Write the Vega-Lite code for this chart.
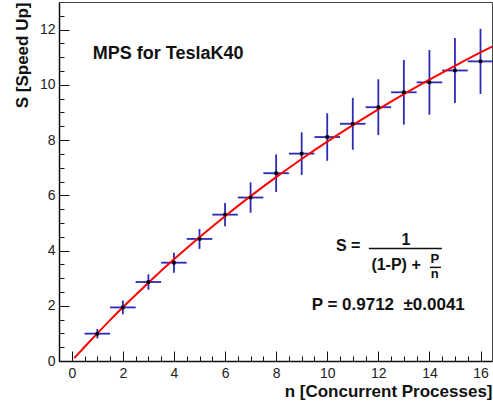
{
  "$schema": "https://vega.github.io/schema/vega-lite/v6.json",
  "width": 433,
  "height": 359,
  "autosize": "none",
  "padding": {"left": 59, "top": 2, "right": 1, "bottom": 41},
  "background": "white",
  "config": {
    "view": {"stroke": "#444", "strokeWidth": 1},
    "font": "Liberation Sans",
    "text": {"font": "Liberation Sans"}
  },
  "datasets": {
    "points": [
      {"n": 1, "s": 0.99, "ey": 0.17, "ex": 0.5},
      {"n": 2, "s": 1.94, "ey": 0.25, "ex": 0.5},
      {"n": 3, "s": 2.86, "ey": 0.28, "ex": 0.5},
      {"n": 4, "s": 3.56, "ey": 0.36, "ex": 0.5},
      {"n": 5, "s": 4.42, "ey": 0.36, "ex": 0.5},
      {"n": 6, "s": 5.30, "ey": 0.42, "ex": 0.5},
      {"n": 7, "s": 5.92, "ey": 0.55, "ex": 0.5},
      {"n": 8, "s": 6.80, "ey": 0.68, "ex": 0.5},
      {"n": 9, "s": 7.51, "ey": 0.77, "ex": 0.5},
      {"n": 10, "s": 8.11, "ey": 0.86, "ex": 0.5},
      {"n": 11, "s": 8.59, "ey": 0.94, "ex": 0.5},
      {"n": 12, "s": 9.19, "ey": 1.01, "ex": 0.5},
      {"n": 13, "s": 9.73, "ey": 1.17, "ex": 0.5},
      {"n": 14, "s": 10.09, "ey": 1.17, "ex": 0.5},
      {"n": 15, "s": 10.52, "ey": 1.18, "ex": 0.5},
      {"n": 16, "s": 10.85, "ey": 1.18, "ex": 0.5}
    ],
    "curve": [
      {"n": 0.1, "s": 0.103},
      {"n": 0.25, "s": 0.256},
      {"n": 0.5, "s": 0.507},
      {"n": 1, "s": 1.0},
      {"n": 1.5, "s": 1.479},
      {"n": 2, "s": 1.944},
      {"n": 3, "s": 2.837},
      {"n": 4, "s": 3.682},
      {"n": 5, "s": 4.484},
      {"n": 6, "s": 5.245},
      {"n": 7, "s": 5.969},
      {"n": 8, "s": 6.658},
      {"n": 9, "s": 7.315},
      {"n": 10, "s": 7.942},
      {"n": 11, "s": 8.540},
      {"n": 12, "s": 9.113},
      {"n": 13, "s": 9.661},
      {"n": 14, "s": 10.186},
      {"n": 15, "s": 10.690},
      {"n": 16, "s": 11.173},
      {"n": 16.45, "s": 11.384}
    ]
  },
  "resolve": {"axis": {"x": "independent", "y": "independent"}},
  "layer": [
    {
      "layer": [
        {
          "data": {"name": "points"},
          "mark": {"type": "errorbar", "color": "#2a2ab5", "thickness": 1.8},
          "encoding": {
            "x": {
              "field": "n", "type": "quantitative",
              "title": "n [Concurrent Processes]",
              "scale": {"domain": [-0.5, 16.45], "nice": false, "zero": false},
              "axis": {
                "orient": "bottom",
                "titleAnchor": "end",
                "titleFontSize": 17,
                "titleFontWeight": "bold",
                "titleColor": "#111",
                "titlePadding": 3,
                "values": [0, 2, 4, 6, 8, 10, 12, 14, 16],
                "tickSize": -10,
                "tickColor": "#111",
                "tickWidth": 1,
                "labelFontSize": 14,
                "labelColor": "#222",
                "labelPadding": 15,
                "labelFlush": false,
                "domainColor": "#111",
                "domainWidth": 1.5,
                "grid": false
              }
            },
            "xError": {"field": "ex"},
            "y": {
              "field": "s", "type": "quantitative",
              "title": "S [Speed Up]",
              "scale": {"domain": [0, 13], "nice": false, "zero": true},
              "axis": {
                "orient": "left",
                "titleAnchor": "end",
                "titleFontSize": 17,
                "titleFontWeight": "bold",
                "titleColor": "#111",
                "titlePadding": 8,
                "values": [0, 2, 4, 6, 8, 10, 12],
                "tickSize": -10,
                "tickColor": "#111",
                "tickWidth": 1,
                "labelFontSize": 14,
                "labelColor": "#222",
                "labelPadding": 14,
                "labelFlush": false,
                "domainColor": "#111",
                "domainWidth": 1.5,
                "grid": false
              }
            }
          }
        },
        {
          "data": {"name": "points"},
          "mark": {"type": "errorbar", "color": "#2a2ab5", "thickness": 1.8},
          "encoding": {
            "x": {"field": "n", "type": "quantitative", "title": "n [Concurrent Processes]"},
            "y": {"field": "s", "type": "quantitative", "title": "S [Speed Up]"},
            "yError": {"field": "ey"}
          }
        },
        {
          "data": {"name": "curve"},
          "mark": {"type": "line", "color": "#ff0000", "strokeWidth": 2, "interpolate": "monotone", "clip": true},
          "encoding": {
            "x": {"field": "n", "type": "quantitative", "title": "n [Concurrent Processes]"},
            "y": {"field": "s", "type": "quantitative", "title": "S [Speed Up]"}
          }
        },
        {
          "data": {"values": [{"label": "MPS for TeslaK40"}]},
          "mark": {"type": "text", "align": "left", "baseline": "alphabetic", "fontSize": 18, "fontWeight": "bold", "color": "#111"},
          "encoding": {
            "x": {"datum": 0.82},
            "y": {"datum": 10.95},
            "text": {"field": "label"}
          }
        },
        {
          "data": {"values": [{"label": "S ="}]},
          "mark": {"type": "text", "align": "left", "baseline": "alphabetic", "fontSize": 16, "fontWeight": "bold", "color": "#111"},
          "encoding": {
            "x": {"datum": 10.34},
            "y": {"datum": 3.97},
            "text": {"field": "label"}
          }
        },
        {
          "data": {"values": [{"label": "1"}]},
          "mark": {"type": "text", "align": "center", "baseline": "alphabetic", "fontSize": 16, "fontWeight": "bold", "color": "#111"},
          "encoding": {
            "x": {"datum": 13.08},
            "y": {"datum": 4.21},
            "text": {"field": "label"}
          }
        },
        {
          "data": {"values": [{"label": "(1-P) +"}]},
          "mark": {"type": "text", "align": "right", "baseline": "alphabetic", "fontSize": 16, "fontWeight": "bold", "color": "#111"},
          "encoding": {
            "x": {"datum": 13.66},
            "y": {"datum": 3.30},
            "text": {"field": "label"}
          }
        },
        {
          "data": {"values": [{"label": "P"}]},
          "mark": {"type": "text", "align": "center", "baseline": "alphabetic", "fontSize": 13, "fontWeight": "bold", "color": "#111"},
          "encoding": {
            "x": {"datum": 14.21},
            "y": {"datum": 3.54},
            "text": {"field": "label"}
          }
        },
        {
          "data": {"values": [{"label": "n"}]},
          "mark": {"type": "text", "align": "center", "baseline": "alphabetic", "fontSize": 13, "fontWeight": "bold", "color": "#111"},
          "encoding": {
            "x": {"datum": 14.21},
            "y": {"datum": 2.99},
            "text": {"field": "label"}
          }
        },
        {
          "data": {"values": [{"label": "P = 0.9712 \u00a0±0.0041"}]},
          "mark": {"type": "text", "align": "left", "baseline": "alphabetic", "fontSize": 17, "fontWeight": "bold", "color": "#111"},
          "encoding": {
            "x": {"datum": 9.39},
            "y": {"datum": 1.86},
            "text": {"field": "label"}
          }
        },
        {
          "data": {"values": [{}]},
          "mark": {"type": "rule", "color": "#111", "strokeWidth": 1.5},
          "encoding": {
            "x": {"datum": 11.63},
            "x2": {"datum": 14.49},
            "y": {"datum": 4.07}
          }
        },
        {
          "data": {"values": [{}]},
          "mark": {"type": "rule", "color": "#111", "strokeWidth": 1.5},
          "encoding": {
            "x": {"datum": 14.02},
            "x2": {"datum": 14.45},
            "y": {"datum": 3.39}
          }
        }
      ]
    },
    {
      "data": {"name": "points"},
      "mark": {"type": "square", "size": 12, "color": "#000", "opacity": 1, "filled": true},
      "encoding": {
        "x": {
          "field": "n", "type": "quantitative",
          "axis": {
            "orient": "bottom",
            "title": null,
            "labels": false,
            "domain": false,
            "grid": false,
            "tickSize": -5,
            "tickColor": "#111",
            "values": [0, 0.5, 1, 1.5, 2, 2.5, 3, 3.5, 4, 4.5, 5, 5.5, 6, 6.5, 7, 7.5, 8, 8.5, 9, 9.5, 10, 10.5, 11, 11.5, 12, 12.5, 13, 13.5, 14, 14.5, 15, 15.5, 16]
          }
        },
        "y": {
          "field": "s", "type": "quantitative",
          "axis": {
            "orient": "left",
            "title": null,
            "labels": false,
            "domain": false,
            "grid": false,
            "tickSize": -5,
            "tickColor": "#111",
            "values": [0, 0.5, 1, 1.5, 2, 2.5, 3, 3.5, 4, 4.5, 5, 5.5, 6, 6.5, 7, 7.5, 8, 8.5, 9, 9.5, 10, 10.5, 11, 11.5, 12, 12.5]
          }
        }
      }
    }
  ]
}
